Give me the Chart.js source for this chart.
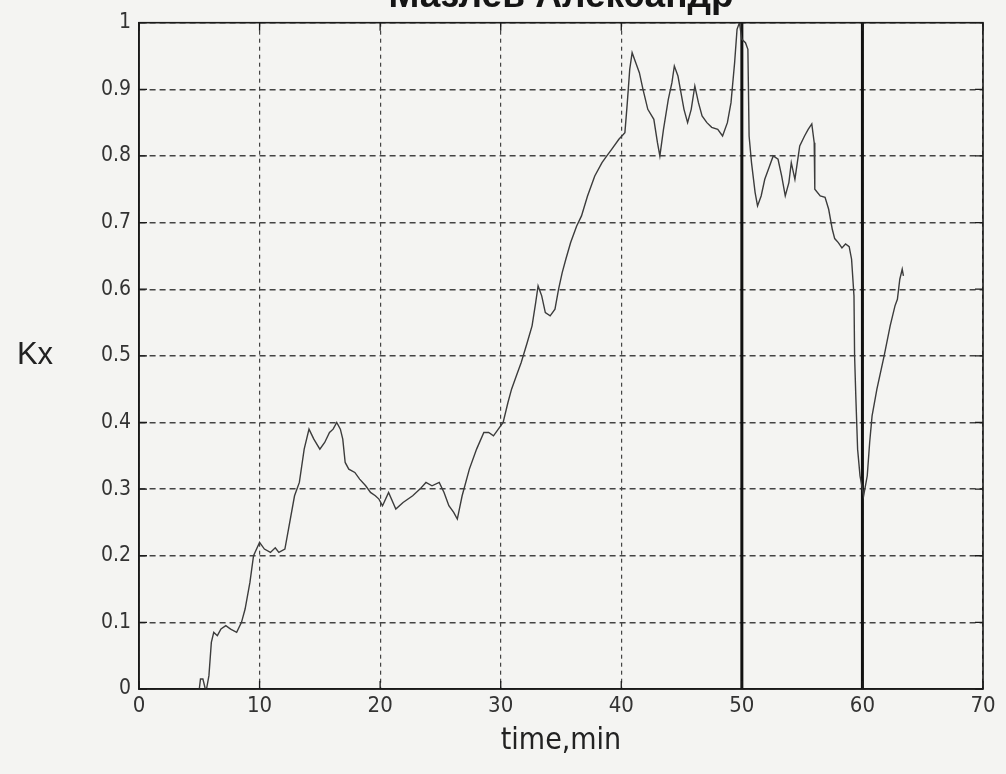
<!DOCTYPE html>
<html>
<head>
<meta charset="utf-8">
<script src="https://cdn.jsdelivr.net/npm/chart.js@4/dist/chart.umd.min.js"></script>
<style>
  html, body { margin: 0; padding: 0; background: #f4f4f2; }
  #wrap { position: relative; width: 1006px; height: 774px; overflow: hidden; }
  #kxChart { position: absolute; left: 0; top: -30px; }
</style>
</head>
<body>
<div id="wrap"><canvas id="kxChart" width="1006" height="804"></canvas></div>
<script>
// Kx over time
const timeMin = [
  5.0, 5.1, 5.3, 5.5, 5.6, 5.8, 6.0, 6.2, 6.5, 6.8, 7.2, 7.6, 8.1, 8.5, 8.8, 9.2, 9.5, 9.75,
  10.0, 10.4, 10.9, 11.3, 11.6, 12.1, 12.4, 12.9, 13.3, 13.7, 14.1, 14.5, 15.0, 15.4, 15.8,
  16.1, 16.4, 16.7, 16.9, 17.1, 17.4, 17.9, 18.3, 18.8, 19.2, 19.6, 19.9, 20.2, 20.7, 21.3,
  21.9, 22.7, 23.3, 23.8, 24.3, 24.9, 25.3, 25.7, 26.1, 26.4, 26.8, 27.4, 28.0, 28.6, 29.0,
  29.4, 29.8, 30.2, 30.6, 30.9, 31.3, 31.7, 32.2, 32.6, 32.9, 33.1, 33.4, 33.7, 34.1, 34.5,
  34.8, 35.1, 35.4, 35.8, 36.3, 36.7, 37.2, 37.8, 38.4, 38.8, 39.2, 39.8, 40.3, 40.5, 40.7,
  40.9, 41.2, 41.5, 41.8, 42.2, 42.7, 43.0, 43.2, 43.5, 43.9, 44.2, 44.4, 44.7, 44.9, 45.2,
  45.5, 45.8, 46.1, 46.4, 46.7, 47.1, 47.5, 48.0, 48.4, 48.8, 49.1, 49.4, 49.6, 49.8, 50.0,
  50.3, 50.5, 50.6, 50.8, 51.1, 51.3, 51.6, 51.9, 52.3, 52.6, 53.0, 53.3, 53.6, 53.9, 54.1,
  54.4, 54.6, 54.8, 55.2, 55.5, 55.8, 56.0, 56.05, 56.5, 56.9, 57.2, 57.5, 57.7, 58.0, 58.3,
  58.6, 58.9, 59.1, 59.3, 59.35, 59.45, 59.6, 59.8, 60.1, 60.4, 60.6, 60.8, 61.2, 61.8, 62.3,
  62.7, 62.9, 63.1, 63.3, 63.4
];
const kxValues = [
  0.0, 0.015, 0.015, 0.0, 0.0, 0.02, 0.07, 0.085, 0.08, 0.09, 0.095, 0.09, 0.085, 0.1, 0.12, 0.16, 0.2, 0.21,
  0.22, 0.21, 0.205, 0.212, 0.205, 0.21, 0.24, 0.29, 0.31, 0.36, 0.39, 0.375, 0.36, 0.37, 0.385,
  0.39, 0.40, 0.39, 0.375, 0.34, 0.33, 0.325, 0.315, 0.305, 0.295, 0.29, 0.285, 0.275, 0.295, 0.27,
  0.28, 0.29, 0.30, 0.31, 0.305, 0.31, 0.295, 0.275, 0.265, 0.255, 0.29, 0.33, 0.36, 0.385, 0.385,
  0.38, 0.39, 0.40, 0.43, 0.45, 0.47, 0.49, 0.52, 0.545, 0.58, 0.605, 0.59, 0.565, 0.56, 0.57,
  0.60, 0.625, 0.645, 0.67, 0.695, 0.71, 0.74, 0.77, 0.79, 0.80, 0.81, 0.825, 0.835, 0.88, 0.93,
  0.955, 0.94, 0.925, 0.90, 0.87, 0.855, 0.82, 0.80, 0.84, 0.885, 0.91, 0.935, 0.92, 0.90, 0.87,
  0.85, 0.87, 0.905, 0.88, 0.86, 0.85, 0.843, 0.84, 0.83, 0.85, 0.88, 0.94, 0.99, 1.0, 0.975,
  0.97, 0.96, 0.83, 0.79, 0.745, 0.725, 0.74, 0.765, 0.785, 0.80, 0.795, 0.77, 0.74, 0.76, 0.79,
  0.765, 0.79, 0.815, 0.83, 0.84, 0.848, 0.82, 0.75, 0.74, 0.738, 0.72, 0.69, 0.676, 0.67, 0.662,
  0.668, 0.664, 0.645, 0.59, 0.50, 0.44, 0.36, 0.32, 0.29, 0.32, 0.37, 0.41, 0.45, 0.50, 0.545,
  0.575, 0.585, 0.615, 0.63, 0.62
];

// vertical marker lines
const markerTimes = [50, 60];
const markerRange = [0, 1];

const xTickLabels = ['0', '10', '20', '30', '40', '50', '60', '70'];
const yTickLabels = ['0', '0.1', '0.2', '0.3', '0.4', '0.5', '0.6', '0.7', '0.8', '0.9', '1'];

const narrowFont = "'Liberation Sans Narrow', 'DejaVu Sans Condensed', 'Liberation Sans', Arial, sans-serif";

// box round the plot with inner ticks, plus the horizontal "Kx" label
const frameBox = {
    id: 'frameBox',
    afterDraw(chart) {
        const ctx = chart.ctx;
        const a = chart.chartArea;
        const xs = chart.scales.x, ys = chart.scales.y;
        ctx.save();
        ctx.strokeStyle = '#1a1a1a';
        ctx.lineWidth = 1.6;
        ctx.strokeRect(a.left, a.top, a.right - a.left, a.bottom - a.top);
        ctx.lineWidth = 1.3;
        ctx.beginPath();
        xs.ticks.forEach(t => {
            const px = xs.getPixelForValue(t.value);
            ctx.moveTo(px, a.bottom); ctx.lineTo(px, a.bottom - 8);
            ctx.moveTo(px, a.top); ctx.lineTo(px, a.top + 8);
        });
        ys.ticks.forEach(t => {
            const py = ys.getPixelForValue(t.value);
            ctx.moveTo(a.left, py); ctx.lineTo(a.left + 8, py);
            ctx.moveTo(a.right, py); ctx.lineTo(a.right - 8, py);
        });
        ctx.stroke();

        ctx.fillStyle = '#222';
        ctx.font = "31px 'Liberation Sans', Arial, sans-serif";
        ctx.textAlign = 'center';
        ctx.textBaseline = 'middle';
        ctx.fillText('Kx', 35, ys.getPixelForValue(0.5));
        ctx.restore();
    }
};

const datasets = [{
    label: 'Kx',
    data: timeMin.map((t, i) => ({ x: t, y: kxValues[i] })),
    borderColor: '#3c3c3c',
    borderWidth: 1.4,
    pointRadius: 0,
    showLine: true,
    tension: 0
}];
markerTimes.forEach(t => {
    datasets.push({
        label: 'marker ' + t,
        data: markerRange.map(v => ({ x: t, y: v })),
        borderColor: '#111',
        borderWidth: 3,
        pointRadius: 0,
        showLine: true
    });
});

new Chart(document.getElementById('kxChart').getContext('2d'), {
    type: 'scatter',
    data: { datasets: datasets },
    plugins: [frameBox],
    options: {
        responsive: false,
        animation: false,
        layout: { padding: { left: 0, right: 23, top: 0, bottom: 0 } },
        plugins: {
            legend: { display: false },
            tooltip: { enabled: false },
            title: {
                display: true,
                fullSize: false,
                text: 'Мазлев Александр',
                color: '#151515',
                font: { family: "'Liberation Sans', Arial, sans-serif", size: 37, weight: 'bold', lineHeight: 1.1 },
                padding: { top: 6, bottom: 6 }
            }
        },
        scales: {
            x: {
                type: 'linear',
                min: 0,
                max: 70,
                ticks: {
                    stepSize: 10,
                    color: '#333',
                    padding: 4,
                    font: { family: narrowFont, size: 22 },
                    callback: (v, i) => xTickLabels[i]
                },
                grid: { color: '#444', lineWidth: 1.2, drawTicks: false },
                border: { display: true, color: '#1a1a1a', width: 1.6, dash: [4, 4] },
                title: {
                    display: true,
                    text: 'time,min',
                    color: '#222',
                    font: { family: narrowFont, size: 30 },
                    padding: { top: 0, bottom: 15 }
                },
                afterFit: (scale) => { scale.height = 85; }
            },
            y: {
                min: 0,
                max: 1,
                ticks: {
                    stepSize: 0.1,
                    color: '#333',
                    padding: 8,
                    font: { family: narrowFont, size: 21 },
                    callback: (v, i) => yTickLabels[i]
                },
                grid: { color: '#444', lineWidth: 1.4, drawTicks: false },
                border: { display: true, color: '#1a1a1a', width: 1.6, dash: [6, 4] },
                afterFit: (scale) => { scale.width = 139; }
            }
        }
    }
});
</script>
</body>
</html>
